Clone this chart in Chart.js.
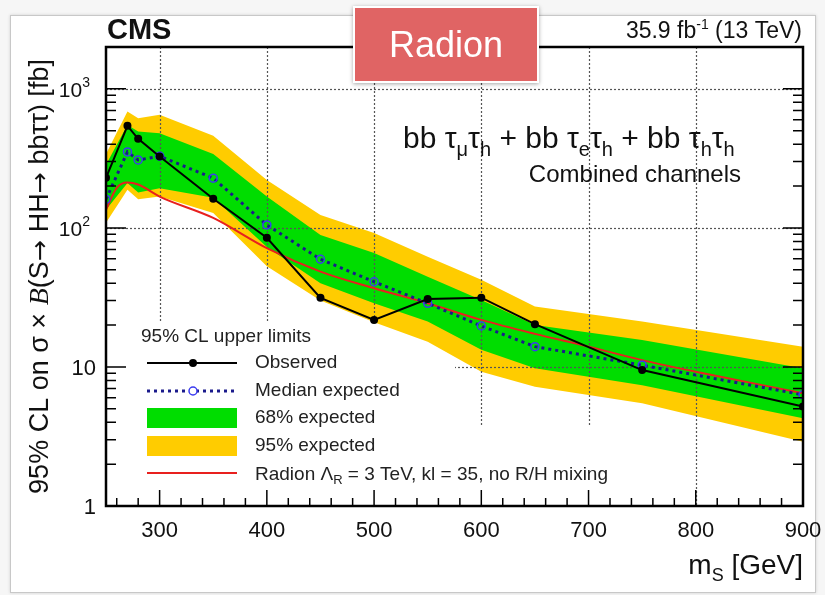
<!DOCTYPE html>
<html>
<head>
<meta charset="utf-8">
<script src="https://cdn.jsdelivr.net/npm/chart.js@4.4.1/dist/chart.umd.min.js"></script>
<style>
html, body { margin: 0; padding: 0; background: #f6f6f6; }
#wrap { position: relative; width: 825px; height: 595px; overflow: hidden; }
#sheet { position: absolute; left: 10px; top: 15px; width: 804px; height: 576px; background: #fff; border: 1px solid #c8c8c8; box-shadow: 0 0 3px rgba(0,0,0,0.15); }
#chart { position: absolute; left: 0; top: 0; }
#tag { position: absolute; left: 353px; top: 6px; width: 182px; height: 73px; background: #e06464; border: 2px solid #fff; box-shadow: 0 1px 4px rgba(0,0,0,0.35); color: #fff; font: 36px "Liberation Sans", Arial, sans-serif; text-align: center; line-height: 73px; }
</style>
</head>
<body>
<div id="wrap">
  <div id="sheet"></div>
  <canvas id="chart" width="825" height="595"></canvas>
  <div id="tag">Radion</div>
</div>
<script>
// mass points (GeV) of the limit scan
const masses = [250, 270, 280, 300, 350, 400, 450, 500, 550, 600, 650, 750, 900];
const observed = [229, 542, 437, 326, 162, 85, 31.4, 21.8, 30.8, 31.5, 20.3, 9.5, 5.2];
const expected = [161, 352, 308, 328, 228, 105, 59.5, 41, 28.7, 19.7, 14.0, 10.3, 6.3];
const band68Up = [284, 550, 493, 480, 340, 168, 89, 66, 44.6, 30.3, 20, 15.6, 9.8];
const band68Lo = [135, 210, 180, 193, 165, 73, 40, 28.7, 21.2, 13.3, 9.8, 7.4, 4.28];
const band95Up = [340, 687, 615, 650, 460, 221, 124, 92, 62, 42.3, 27.2, 21.2, 14];
const band95Lo = [109, 188, 161, 168, 128, 53, 30, 21, 15.2, 9.25, 7.2, 5.48, 2.9];

// radion theory curve
const radionMasses = [250, 260, 270, 280, 300, 350, 400, 450, 500, 550, 600, 650, 700, 750, 800, 900];
const radion = [135, 194, 212, 205, 168, 118, 71.5, 48.5, 36.8, 28.7, 21.8, 17.3, 14, 11.2, 9.25, 6.47];

const xTicks = [300, 400, 500, 600, 700, 800, 900];
const yDecades = [1, 10, 100, 1000];
const gridX = [300, 400, 500, 600, 700, 800];
const gridY = [10, 100, 1000];

const SANS = '"Liberation Sans", Arial, Helvetica, sans-serif';
const f = (px, style) => (style || '') + ' ' + px + 'px ' + SANS;
const GREEN = '#00dd00';
const YELLOW = '#ffcc00';
const pts = (xs, ys) => xs.map((x, i) => ({ x: x, y: ys[i] }));

// draw a run of text pieces with different fonts / offsets
function rich(ctx, parts, x, y, align) {
  let w = 0;
  parts.forEach(p => { ctx.font = p.f; w += ctx.measureText(p.t).width; });
  let cx = align === 'right' ? x - w : align === 'center' ? x - w / 2 : x;
  ctx.textAlign = 'left';
  ctx.textBaseline = 'alphabetic';
  parts.forEach(p => {
    ctx.font = p.f;
    ctx.fillText(p.t, cx, y + (p.dy || 0));
    cx += ctx.measureText(p.t).width;
  });
}

function drawGrid(chart) {
  const { ctx, chartArea: a, scales: { x, y } } = chart;
  ctx.save();
  ctx.beginPath();
  ctx.rect(a.left, a.top, a.right - a.left, a.bottom - a.top);
  // legend boxes hide the grid
  ctx.rect(a.left, 322, 455 - a.left, a.bottom - 322);
  ctx.rect(455, 425, 195, a.bottom - 425);
  ctx.clip('evenodd');
  ctx.setLineDash([2, 2]);
  ctx.strokeStyle = '#555';
  ctx.lineWidth = 1.2;
  gridX.forEach(v => {
    const px = Math.round(x.getPixelForValue(v)) + 0.5;
    ctx.beginPath(); ctx.moveTo(px, a.top); ctx.lineTo(px, a.bottom); ctx.stroke();
  });
  gridY.forEach(v => {
    const py = Math.round(y.getPixelForValue(v)) + 0.5;
    ctx.beginPath(); ctx.moveTo(a.left, py); ctx.lineTo(a.right, py); ctx.stroke();
  });
  ctx.restore();
}

function drawAxes(chart) {
  const { ctx, chartArea: a, scales: { x, y } } = chart;
  ctx.save();
  ctx.strokeStyle = '#000';
  ctx.fillStyle = '#000';
  ctx.lineWidth = 1.5;
  // y ticks, both sides
  for (let k = 0; k <= 3; k++) {
    for (let m = 1; m <= 9; m++) {
      const v = m * Math.pow(10, k);
      if (v > y.max) continue;
      const py = y.getPixelForValue(v);
      const len = m === 1 ? 20 : 10;
      ctx.beginPath();
      ctx.moveTo(a.left, py); ctx.lineTo(a.left + len, py);
      ctx.moveTo(a.right, py); ctx.lineTo(a.right - len, py);
      ctx.stroke();
    }
  }
  // x ticks
  for (let v = 260; v <= 900; v += 20) {
    const px = x.getPixelForValue(v);
    const len = v % 100 === 0 ? 16 : 8;
    ctx.beginPath(); ctx.moveTo(px, a.bottom); ctx.lineTo(px, a.bottom - len); ctx.stroke();
  }
  // frame
  ctx.lineWidth = 2.5;
  ctx.strokeRect(a.left, a.top, a.right - a.left, a.bottom - a.top);

  // tick labels
  ctx.fillStyle = '#111';
  ctx.textAlign = 'center';
  ctx.textBaseline = 'middle';
  ctx.font = f(22);
  xTicks.forEach(v => ctx.fillText(String(v), x.getPixelForValue(v), a.bottom + 25));
  yDecades.forEach(v => {
    const py = y.getPixelForValue(v);
    const e = Math.round(Math.log10(v));
    if (e === 0) rich(ctx, [{ t: '1', f: f(22) }], 96, py + 8, 'right');
    else if (e === 1) rich(ctx, [{ t: '10', f: f(22) }], 96, py + 8, 'right');
    else rich(ctx, [{ t: '10', f: f(21) }, { t: String(e), f: f(14), dy: -10 }], 90, py + 8, 'right');
  });

  // axis titles
  rich(ctx, [{ t: 'm', f: f(28) }, { t: 'S', f: f(18), dy: 7 }, { t: ' [GeV]', f: f(28) }], a.right, 574, 'right');
  ctx.save();
  ctx.translate(48, (a.top + a.bottom) / 2);
  ctx.rotate(-Math.PI / 2);
  rich(ctx, [
    { t: '95% CL on σ × ', f: f(27) },
    { t: 'B', f: 'italic 28px "Liberation Serif", serif' },
    { t: '(S', f: f(27) },
    { t: '→ ', f: '25px "DejaVu Sans", sans-serif' },
    { t: 'HH', f: f(27) },
    { t: '→ ', f: '25px "DejaVu Sans", sans-serif' },
    { t: 'bbττ) [fb]', f: f(27) }
  ], 0, 0, 'center');
  ctx.restore();

  // header texts
  rich(ctx, [{ t: 'CMS', f: f(29, 'bold') }], 107, 39, 'left');
  rich(ctx, [{ t: '35.9 fb', f: f(23) }, { t: '-1', f: f(14), dy: -9 }, { t: ' (13 TeV)', f: f(23) }], a.right - 1, 38, 'right');
  const sub = (t) => ({ t: t, f: f(20), dy: 8 });
  const big = (t) => ({ t: t, f: f(30) });
  rich(ctx, [big('bb τ'), sub('μ'), big('τ'), sub('h'), big(' + bb τ'), sub('e'), big('τ'), sub('h'),
    big(' + bb τ'), sub('h'), big('τ'), sub('h')], 403, 148, 'left');
  rich(ctx, [{ t: 'Combined channels', f: f(24) }], 741, 182, 'right');

  // legend
  const lx0 = 147, lx1 = 237, lxm = 193, tx = 255;
  ctx.textAlign = 'left';
  ctx.textBaseline = 'middle';
  ctx.font = f(19);
  ctx.fillStyle = '#222';
  ctx.fillText('95% CL upper limits', 141, 337);
  let ly = 363;
  ctx.strokeStyle = '#000'; ctx.lineWidth = 2;
  ctx.beginPath(); ctx.moveTo(lx0, ly); ctx.lineTo(lx1, ly); ctx.stroke();
  ctx.fillStyle = '#000';
  ctx.beginPath(); ctx.arc(lxm, ly, 4, 0, Math.PI * 2); ctx.fill();
  ctx.fillStyle = '#222'; ctx.fillText('Observed', tx, ly);
  ly = 391;
  ctx.save();
  ctx.strokeStyle = '#1a1a8c'; ctx.lineWidth = 3; ctx.setLineDash([3, 4]);
  ctx.beginPath(); ctx.moveTo(lx0, ly); ctx.lineTo(lx1, ly); ctx.stroke();
  ctx.restore();
  ctx.fillStyle = '#fff'; ctx.strokeStyle = '#3b3bf0'; ctx.lineWidth = 1.5;
  ctx.beginPath(); ctx.arc(lxm, ly, 4, 0, Math.PI * 2); ctx.fill(); ctx.stroke();
  ctx.fillStyle = '#222'; ctx.fillText('Median expected', tx, ly);
  ly = 418;
  ctx.fillStyle = GREEN; ctx.fillRect(lx0, ly - 10, lx1 - lx0, 20);
  ctx.fillStyle = '#222'; ctx.fillText('68% expected', tx, ly);
  ly = 446;
  ctx.fillStyle = YELLOW; ctx.fillRect(lx0, ly - 10, lx1 - lx0, 20);
  ctx.fillStyle = '#222'; ctx.fillText('95% expected', tx, ly);
  ly = 473;
  ctx.strokeStyle = '#e8201e'; ctx.lineWidth = 2;
  ctx.beginPath(); ctx.moveTo(lx0, ly); ctx.lineTo(lx1, ly); ctx.stroke();
  ctx.fillStyle = '#222';
  rich(ctx, [{ t: 'Radion Λ', f: f(19) }, { t: 'R', f: f(13), dy: 4 }, { t: ' = 3 TeV, kl = 35, no R/H mixing', f: f(19) }], tx, ly + 7, 'left');
  ctx.restore();
}

const cmsPlugin = {
  id: 'cmsPlot',
  beforeDatasetDraw(chart, args) {
    if (chart.data.datasets[args.index].label === 'Radion') drawGrid(chart);
  },
  afterDraw(chart) { drawAxes(chart); }
};

const line = { pointRadius: 0, borderWidth: 0, tension: 0 };

new Chart(document.getElementById('chart').getContext('2d'), {
  type: 'line',
  data: {
    datasets: [
      { label: 'Observed', data: pts(masses, observed), borderColor: '#000', borderWidth: 2,
        pointRadius: 4, pointBackgroundColor: '#000', pointBorderColor: '#000', pointBorderWidth: 0, order: 1 },
      { label: 'Median expected', data: pts(masses, expected), borderColor: '#1a1a8c', borderWidth: 3, borderDash: [3, 4],
        pointRadius: 4, pointBackgroundColor: 'rgba(0,0,0,0)', pointBorderColor: '#3b3bf0', pointBorderWidth: 1.5, order: 2 },
      { label: 'Radion', data: pts(radionMasses, radion), borderColor: '#e8201e', borderWidth: 2,
        pointRadius: 0, cubicInterpolationMode: 'monotone', order: 3 },
      Object.assign({ label: '68up', data: pts(masses, band68Up), fill: '+1', backgroundColor: GREEN, order: 5 }, line),
      Object.assign({ label: '68lo', data: pts(masses, band68Lo), fill: false, order: 6 }, line),
      Object.assign({ label: '95up', data: pts(masses, band95Up), fill: '+1', backgroundColor: YELLOW, order: 7 }, line),
      Object.assign({ label: '95lo', data: pts(masses, band95Lo), fill: false, order: 8 }, line)
    ]
  },
  options: {
    responsive: false,
    animation: false,
    devicePixelRatio: 1,
    layout: { padding: { left: 106, right: 22, top: 47, bottom: 89 } },
    scales: {
      x: { type: 'linear', min: 250, max: 900, display: false },
      y: { type: 'logarithmic', min: 1, max: 2000, display: false }
    },
    plugins: { legend: { display: false }, tooltip: { enabled: false } }
  },
  plugins: [cmsPlugin]
});
</script>
</body>
</html>
